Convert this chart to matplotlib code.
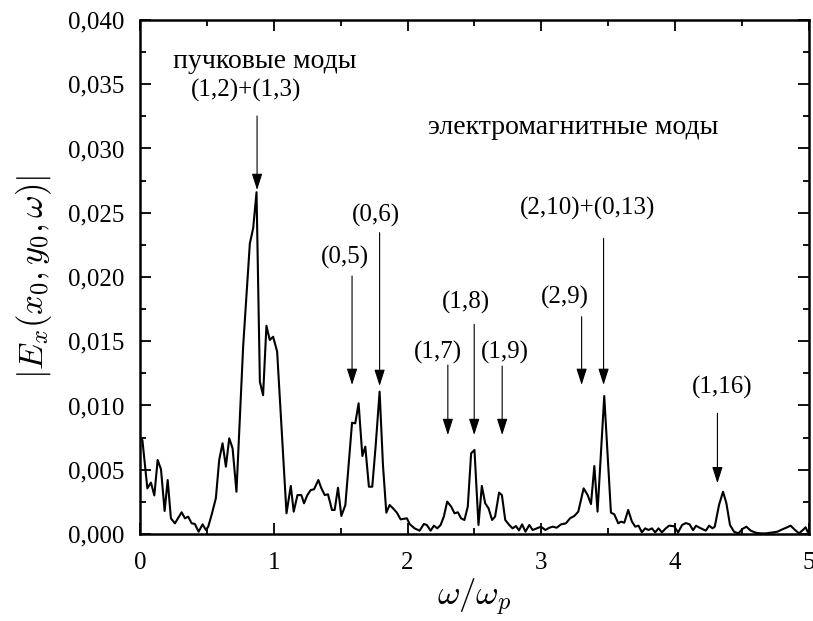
import matplotlib
matplotlib.use("Agg")
import matplotlib.pyplot as plt
from matplotlib.ticker import MultipleLocator, FuncFormatter

plt.rcParams['font.family'] = ['Liberation Serif', 'DejaVu Serif']
plt.rcParams['mathtext.fontset'] = 'cm'

# Spectrum |E_x(x0, y0, w)| versus normalised frequency w/w_p
omega = [0.000, 0.007, 0.018, 0.055, 0.082, 0.107, 0.132, 0.157, 0.184, 0.207,
         0.231, 0.261, 0.311, 0.336, 0.360, 0.386, 0.410, 0.438, 0.468, 0.493,
         0.510, 0.535, 0.567, 0.592, 0.617, 0.642, 0.667, 0.692, 0.721, 0.771,
         0.821, 0.846, 0.871, 0.896, 0.920, 0.945, 0.970, 0.995, 1.025, 1.095,
         1.127, 1.149, 1.177, 1.206, 1.226, 1.251, 1.276, 1.301, 1.333, 1.356,
         1.381, 1.405, 1.435, 1.455, 1.480, 1.505, 1.535, 1.562, 1.585, 1.609,
         1.634, 1.662, 1.684, 1.711, 1.736, 1.761, 1.791, 1.816, 1.841, 1.866,
         1.891, 1.920, 1.948, 1.995, 2.015, 2.052, 2.090, 2.122, 2.144, 2.172,
         2.197, 2.222, 2.247, 2.271, 2.296, 2.326, 2.351, 2.376, 2.400, 2.425,
         2.450, 2.475, 2.500, 2.530, 2.555, 2.580, 2.605, 2.632, 2.654, 2.684,
         2.705, 2.730, 2.760, 2.785, 2.810, 2.833, 2.856, 2.881, 2.910, 2.935,
         2.965, 2.997, 3.030, 3.060, 3.085, 3.115, 3.147, 3.184, 3.214, 3.246,
         3.276, 3.316, 3.346, 3.371, 3.396, 3.420, 3.470, 3.520, 3.545, 3.575,
         3.595, 3.620, 3.649, 3.677, 3.702, 3.726, 3.751, 3.776, 3.801, 3.826,
         3.851, 3.876, 3.901, 3.930, 3.955, 3.993, 4.022, 4.052, 4.080, 4.107,
         4.134, 4.156, 4.192, 4.229, 4.254, 4.279, 4.296, 4.328, 4.358, 4.383,
         4.410, 4.440, 4.473, 4.503, 4.532, 4.565, 4.602, 4.640, 4.677, 4.714,
         4.764, 4.801, 4.831, 4.863, 4.896, 4.926, 4.955, 4.975, 4.990]

amplitude = [0.00750, 0.00745, 0.00730, 0.00355, 0.00400, 0.00300, 0.00576, 0.00503, 0.00179, 0.00420,
             0.00122, 0.00083, 0.00169, 0.00122, 0.00135, 0.00083, 0.00078, 0.00018, 0.00075, 0.00031,
             0.00057, 0.00148, 0.00278, 0.00576, 0.00706, 0.00524, 0.00745, 0.00667, 0.00329, 0.01460,
             0.02260, 0.02380, 0.02660, 0.01185, 0.01080, 0.01620, 0.01510, 0.01535, 0.01420, 0.00161,
             0.00374, 0.00174, 0.00303, 0.00303, 0.00239, 0.00303, 0.00342, 0.00348, 0.00420, 0.00355,
             0.00303, 0.00309, 0.00187, 0.00187, 0.00360, 0.00140, 0.00226, 0.00576, 0.00866, 0.00861,
             0.01017, 0.00607, 0.00680, 0.00368, 0.00368, 0.00680, 0.01108, 0.00537, 0.00166, 0.00226,
             0.00200, 0.00166, 0.00114, 0.00122, 0.00078, 0.00044, 0.00026, 0.00078, 0.00070, 0.00026,
             0.00065, 0.00044, 0.00070, 0.00135, 0.00252, 0.00213, 0.00161, 0.00169, 0.00122, 0.00109,
             0.00213, 0.00628, 0.00654, 0.00070, 0.00374, 0.00239, 0.00200, 0.00109, 0.00135, 0.00322,
             0.00303, 0.00109, 0.00070, 0.00044, 0.00062, 0.00028, 0.00075, 0.00018, 0.00070, 0.00031,
             0.00044, 0.00057, 0.00031, 0.00049, 0.00057, 0.00049, 0.00075, 0.00083, 0.00122, 0.00140,
             0.00174, 0.00355, 0.00303, 0.00233, 0.00529, 0.00174, 0.01074, 0.00166, 0.00153, 0.00083,
             0.00096, 0.00088, 0.00187, 0.00096, 0.00057, 0.00065, 0.00013, 0.00044, 0.00031, 0.00044,
             0.00013, 0.00044, 0.00013, 0.00044, 0.00065, 0.00060, 0.00012, 0.00070, 0.00085, 0.00076,
             0.00030, 0.00064, 0.00044, 0.00026, 0.00065, 0.00044, 0.00057, 0.00226, 0.00329, 0.00239,
             0.00070, 0.00018, 0.00005, 0.00039, 0.00057, 0.00026, 0.00010, 0.00005, 0.00005, 0.00010,
             0.00018, 0.00036, 0.00049, 0.00065, 0.00031, 0.00005, 0.00031, 0.00052, 0.00018]

# Mode labels: text, label position, arrow x, arrow top, arrow tip
mode_labels = ['(1,2)+(1,3)', '(0,5)', '(0,6)', '(1,7)', '(1,8)', '(1,9)',
               '(2,9)', '(2,10)+(0,13)', '(1,16)']
label_x = [0.791, 1.530, 1.761, 2.226, 2.438, 2.724, 3.178, 3.346, 4.353]
label_y = [0.03403, 0.02107, 0.02430, 0.01367, 0.01756, 0.01367, 0.01795, 0.02482, 0.01095]
arrow_x = [0.875, 1.585, 1.791, 2.301, 2.498, 2.707, 3.301, 3.465, 4.316]
arrow_top = [0.03253, 0.02008, 0.02345, 0.01315, 0.01632, 0.01307, 0.01691, 0.02301, 0.00939]
arrow_tip = [0.02677, 0.01160, 0.01152, 0.00770, 0.00770, 0.00770, 0.01160, 0.01160, 0.00395]

fig = plt.figure(figsize=(8.13, 6.21), dpi=100)
ax = fig.add_axes([0.1722, 0.1401, 0.8228, 0.8277])

ax.plot(omega, amplitude, color='black', lw=1.5)

for txt, lx, ly, ax_x, top, tip in zip(mode_labels, label_x, label_y,
                                        arrow_x, arrow_top, arrow_tip):
    ax.annotate('', xy=(ax_x, tip), xytext=(ax_x, top),
                arrowprops=dict(arrowstyle='-|>,head_length=0.5,head_width=0.16',
                                color='black', lw=0.8, mutation_scale=20,
                                shrinkA=0, shrinkB=0))
    ax.text(lx, ly, txt, ha='center', va='baseline', fontsize=18)

ax.text(0.93, 0.03624, 'пучковые моды', ha='center', va='baseline', fontsize=20)
ax.text(2.149, 0.03113, 'электромагнитные моды', ha='left', va='baseline', fontsize=20)

ax.set_xlim(0, 5)
ax.set_ylim(0, 0.040)
ax.xaxis.set_major_locator(MultipleLocator(1))
ax.xaxis.set_minor_locator(MultipleLocator(0.5))
ax.yaxis.set_major_locator(MultipleLocator(0.005))
ax.yaxis.set_minor_locator(MultipleLocator(0.0025))
ax.yaxis.set_major_formatter(FuncFormatter(lambda v, p: f"{v:.3f}".replace('.', ',')))
ax.xaxis.set_major_formatter(FuncFormatter(lambda v, p: f"{v:g}"))

ax.tick_params(which='both', direction='in', top=True, right=True, labelsize=18)
ax.tick_params(which='major', length=8, width=1.3)
ax.tick_params(which='minor', length=4, width=1.3)
ax.tick_params(axis='x', which='major', pad=13)
ax.tick_params(axis='y', which='major', pad=11)
for s in ax.spines.values():
    s.set_linewidth(1.8)

ax.set_xlabel(r'$\omega/\omega_p$', fontsize=25, labelpad=2)
ax.set_ylabel(r'$|E_x(x_0,y_0,\omega)|$', fontsize=25, labelpad=10)

fig.savefig('out.png', dpi=100)
